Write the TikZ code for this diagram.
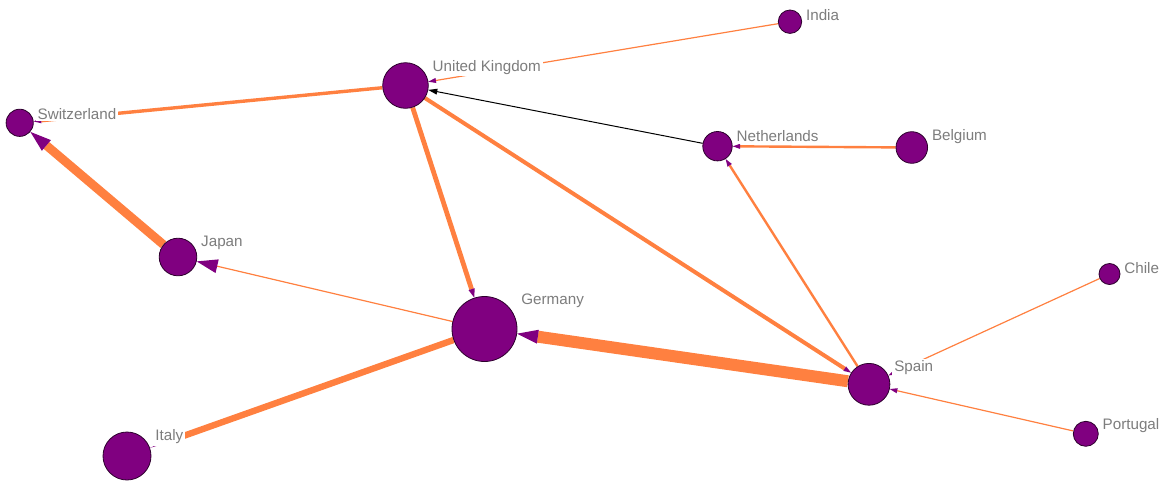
\documentclass[tikz,border=0pt]{standalone}
\usepackage{fontspec}
\setmainfont{Liberation Sans}
\usetikzlibrary{arrows.meta, backgrounds}

\definecolor{nodepurple}{RGB}{128,0,128}
\definecolor{nodeborder}{RGB}{45,0,45}
\definecolor{edgeorange}{RGB}{255,128,64}
\definecolor{labelgray}{RGB}{125,125,125}

\begin{document}
\begin{tikzpicture}[
    x=0.5pt, y=-0.5pt,
    country/.style={circle, draw=nodeborder, fill=nodepurple, line width=0.4pt, inner sep=0pt},
    lbl/.style={anchor=west, xshift=0.8pt, yshift=-2.5pt, fill=white, inner sep=1pt,
                text=labelgray, font=\fontsize{7.6}{9}\selectfont},
    edge/.style={draw=edgeorange},
    bigtip/.style={-{Triangle[length=10.5pt, width=7pt, line width=0pt, color=nodepurple]}},
    midtip/.style={-{Triangle[length=4.5pt, width=3.2pt, line width=0pt, color=nodepurple]}},
    smalltip/.style={-{Triangle[length=3.8pt, width=2.6pt, line width=0pt, color=nodepurple]}},
    fliptip/.style={-{Triangle[length=10pt, width=1.2pt, line width=0pt, color=nodepurple]}}
]
\useasboundingbox (0,0) rectangle (1164,483);

% --- Countries ---
\node[country, minimum size=11.7pt] (india) at (790,21.7) {};
\node[country, minimum size=22.8pt] (uk) at (405.5,85.5) {};
\node[country, minimum size=13.6pt] (switzerland) at (19.7,122.8) {};
\node[country, minimum size=14.7pt] (netherlands) at (717.5,146.2) {};
\node[country, minimum size=15.8pt] (belgium) at (911.8,147.5) {};
\node[country, minimum size=18.8pt] (japan) at (178,257) {};
\node[country, minimum size=32.5pt] (germany) at (484.5,329) {};
\node[country, minimum size=10.5pt] (chile) at (1109.5,274) {};
\node[country, minimum size=20.9pt] (spain) at (869,384.3) {};
\node[country, minimum size=12.5pt] (portugal) at (1085.8,433.8) {};
\node[country, minimum size=24pt] (italy) at (127,456) {};

% --- Flows (under the circles) ---
\begin{pgfonlayer}{background}
\draw[edge, line width=6pt, bigtip] (spain) -- (germany);
\draw[edge, line width=4.4pt, bigtip] (japan) -- (switzerland);
\draw[edge, line width=0.6pt, bigtip] (germany) -- (japan);
\draw[edge, line width=3.2pt, fliptip] (germany) -- (italy);
\draw[edge, line width=2.4pt, midtip] (uk) -- (germany);
\draw[edge, line width=2pt, smalltip] (uk) -- (spain);
\draw[edge, line width=1.7pt, smalltip] (uk) -- (switzerland);
\draw[edge, line width=1.2pt, smalltip] (spain) -- (netherlands);
\draw[edge, line width=1.2pt, smalltip] (belgium) -- (netherlands);
\draw[edge, line width=0.6pt, smalltip] (india) -- (uk);
\draw[edge, line width=0.6pt, smalltip] (chile) -- (spain);
\draw[edge, line width=0.6pt, smalltip] (portugal) -- (spain);
\draw[black, line width=0.5pt, -{Triangle[length=4.5pt, width=3pt, line width=0pt]}] (netherlands) -- (uk);
\end{pgfonlayer}

% --- Names ---
\node[lbl] at (india.north -| india.east) {India};
\node[lbl] at (uk.north -| uk.east) {United Kingdom};
\node[lbl] at (switzerland.north -| switzerland.east) {Switzerland};
\node[lbl] at (netherlands.north -| netherlands.east) {Netherlands};
\node[lbl] at (belgium.north -| belgium.east) {Belgium};
\node[lbl] at (japan.north -| japan.east) {Japan};
\node[lbl] at (germany.north -| germany.east) {Germany};
\node[lbl] at (chile.north -| chile.east) {Chile};
\node[lbl] at (spain.north -| spain.east) {Spain};
\node[lbl] at (portugal.north -| portugal.east) {Portugal};
\node[lbl] at (italy.north -| italy.east) {Italy};
\end{tikzpicture}
\end{document}
